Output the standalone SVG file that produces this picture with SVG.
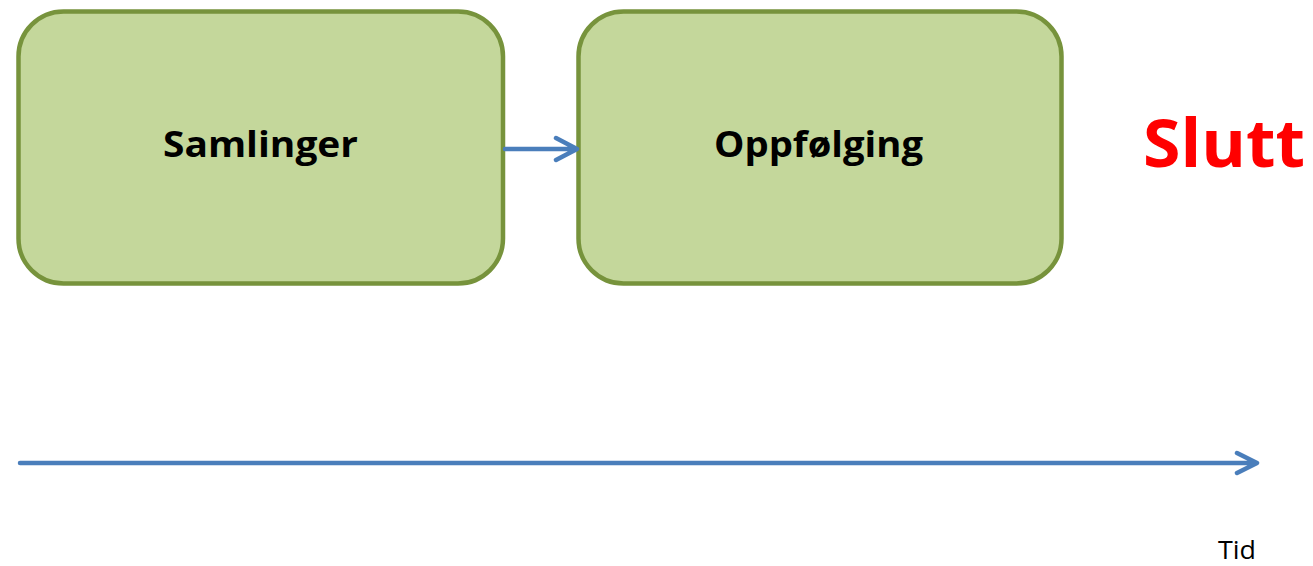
<svg xmlns="http://www.w3.org/2000/svg" width="1313" height="566" viewBox="0 0 1313 566">
<style>
.box{fill:#C4D79B;stroke:#77933C;stroke-width:4.5}
.lbl{font-family:"Open Sans","Liberation Sans",Arial,sans-serif;font-weight:bold;font-size:35px;fill:#000}
.conn{fill:none;stroke:#4A7EBB;stroke-width:4.5;stroke-linecap:round;stroke-linejoin:round}
</style>
<rect width="1313" height="566" fill="#fff"/>
<g id="samlinger">
<rect class="box" x="18.5" y="11.5" width="484.5" height="272" rx="45" ry="45"/>
<text class="lbl" x="163" y="157" textLength="195" lengthAdjust="spacingAndGlyphs">Samlinger</text>
</g>
<g id="oppfolging">
<rect class="box" x="578.5" y="11.5" width="483" height="272" rx="45" ry="45"/>
<text class="lbl" x="714" y="157" textLength="209" lengthAdjust="spacingAndGlyphs">Oppfølging</text>
</g>
<g id="slutt">
<text x="1143" y="167" font-family="Open Sans,Liberation Sans,Arial,sans-serif" font-weight="bold" font-size="67" fill="#FF0000" textLength="162" lengthAdjust="spacingAndGlyphs">Slutt</text>
</g>
<g id="tid">
<text x="1218" y="559" font-family="Open Sans,Liberation Sans,Arial,sans-serif" font-size="25" fill="#000" textLength="38" lengthAdjust="spacingAndGlyphs">Tid</text>
</g>
<g id="connectors">
<path class="conn" d="M505 149 H576 M556 138 L577 149 L556 160"/>
<path class="conn" d="M20 463 H1256 M1237 453 L1257 463 L1237 473"/>
</g>
</svg>
